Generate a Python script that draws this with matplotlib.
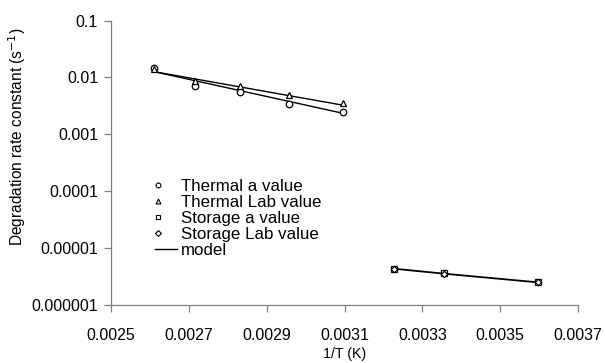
import matplotlib
matplotlib.use("Agg")
import matplotlib.pyplot as plt
from matplotlib.ticker import FixedLocator, FixedFormatter
from matplotlib.lines import Line2D
from matplotlib.legend_handler import HandlerLine2D
import numpy as np

plt.rcParams['font.family'] = ['Liberation Sans', 'DejaVu Sans']

# Thermal data
thermal_x = [0.002611, 0.002717, 0.002832, 0.002957, 0.003096]
thermal_a = [0.0148, 0.0072, 0.0056, 0.0034, 0.00244]
thermal_lab = [0.0140, 0.0085, 0.0070, 0.0049, 0.0036]
thermal_model_x = [0.002611, 0.003096]
thermal_model_a = [0.0126, 0.00234]
thermal_model_lab = [0.0126, 0.00325]

# Storage data
storage_x = [0.003226, 0.003356, 0.003597]
storage_a = [4.35e-6, 3.6e-6, 2.55e-6]
storage_lab = [4.35e-6, 3.55e-6, 2.52e-6]
storage_model = [4.35e-6, 3.55e-6, 2.5e-6]

xticks = [0.0025, 0.0027, 0.0029, 0.0031, 0.0033, 0.0035, 0.0037]
xticklabels = ["0.0025", "0.0027", "0.0029", "0.0031", "0.0033", "0.0035", "0.0037"]
yticks = [1e-6, 1e-5, 1e-4, 1e-3, 1e-2, 1e-1]
yticklabels = ["0.000001", "0.00001", "0.0001", "0.001", "0.01", "0.1"]
legend_labels = ['Thermal a value', 'Thermal Lab value', 'Storage a value',
                 'Storage Lab value', 'model']

fig = plt.figure(figsize=(6.05, 3.63), dpi=100)
ax = fig.add_axes([0.1835, 0.1598, 0.7719, 0.7837])

ms = 4.7
mkw = dict(linestyle='none', markerfacecolor='white', markeredgecolor='black',
           markeredgewidth=0.9, markersize=ms)

ax.plot(thermal_model_x, thermal_model_a, color='black', lw=1.0)
ax.plot(thermal_model_x, thermal_model_lab, color='black', lw=1.0)
ax.plot(storage_x, storage_model, color='black', lw=1.3)

ax.plot(thermal_x, thermal_a, marker='o', **mkw)
ax.plot(thermal_x, thermal_lab, marker='^', **mkw)
ax.plot(storage_x, storage_a, marker='s', **mkw)
ax.plot(storage_x, storage_lab, marker='D', **{**mkw, 'markersize': 3.3})

ax.set_yscale('log')
ax.set_xlim(0.0025, 0.0037)
ax.set_ylim(1e-6, 1e-1)
ax.xaxis.set_major_locator(FixedLocator(xticks))
ax.xaxis.set_major_formatter(FixedFormatter(xticklabels))
ax.yaxis.set_major_locator(FixedLocator(yticks))
ax.yaxis.set_major_formatter(FixedFormatter(yticklabels))
ax.yaxis.set_minor_locator(FixedLocator([]))

for s in ['top', 'right']:
    ax.spines[s].set_visible(False)
for s in ['left', 'bottom']:
    ax.spines[s].set_color('#808080')
    ax.spines[s].set_linewidth(0.9)
ax.tick_params(axis='both', direction='out', length=5, width=0.9, color='#808080',
               labelsize=11.5, labelcolor='black')
ax.tick_params(axis='x', pad=11.3)
ax.tick_params(axis='y', pad=4.3)

ax.set_xlabel('1/T (K)', fontsize=10.2)
ax.xaxis.label.set_va('top')
ax.xaxis.set_label_coords(0.5, -(347 - 305) / 284.5)
ax.set_ylabel('Degradation rate constant (s$^{-1}$)', fontsize=11.2)
ax.yaxis.set_label_coords(-(111 - 28) / 467.0, (305 - 137) / 284.5)


class LeftMarkerHandler(HandlerLine2D):
    def get_xdata(self, legend, xdescent, ydescent, width, height, fontsize):
        x0 = -xdescent
        xdata = np.array([x0, x0 + 0.28 * width])
        return xdata, xdata


lkw = dict(linestyle='none', markerfacecolor='white', markeredgecolor='black',
           markersize=3.5, markeredgewidth=0.8)
marker_handles = [
    Line2D([], [], marker='o', **lkw),
    Line2D([], [], marker='^', **lkw),
    Line2D([], [], marker='s', **lkw),
    Line2D([], [], marker='D', **{**lkw, 'markersize': 3}),
]
line_handle = Line2D([], [], color='black', lw=1.0)
handles = marker_handles + [line_handle]
hmap = {h: LeftMarkerHandler() for h in marker_handles}
ax.legend(handles, legend_labels, loc='upper left',
          bbox_to_anchor=((155 - 111) / 467.0, (305 - 178.5) / 284.5), frameon=False,
          fontsize=12.2, handlelength=1.32, handletextpad=0.2, labelspacing=0.07,
          borderaxespad=0, borderpad=0, handler_map=hmap)

fig.savefig('out.png', dpi=100)
